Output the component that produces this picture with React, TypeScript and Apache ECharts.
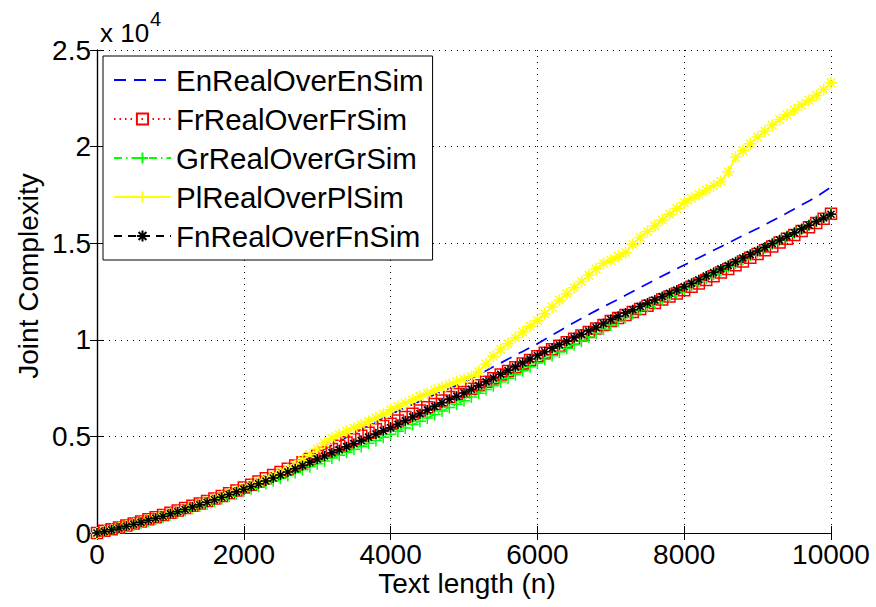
import React, { useEffect, useRef } from "react";
import * as echarts from "echarts";

// Text lengths sampled every 100 characters (0 … 10000)
const textLengths: number[] = Array.from({ length: 101 }, (_, i) => i * 100);

const seriesNames = [
  "EnRealOverEnSim",
  "FrRealOverFrSim",
  "GrRealOverGrSim",
  "PlRealOverPlSim",
  "FnRealOverFnSim",
];

const enValues = [
  0, 80, 170, 260, 350, 450, 560, 660, 770, 880,
  1000, 1110, 1230, 1350, 1470, 1600, 1730, 1860, 2000, 2140,
  2290, 2440, 2590, 2750, 2920, 3100, 3290, 3490, 3700, 3910,
  4120, 4330, 4540, 4750, 4950, 5150, 5350, 5550, 5750, 5950,
  6140, 6310, 6480, 6650, 6820, 6990, 7160, 7320, 7480, 7640,
  7800, 8000, 8200, 8400, 8600, 8800, 9000, 9200, 9400, 9600,
  9800, 10020, 10240, 10460, 10680, 10890, 11100, 11310, 11510, 11710,
  11900, 12100, 12300, 12500, 12700, 12900, 13100, 13300, 13490, 13680,
  13870, 14060, 14250, 14440, 14630, 14820, 15010, 15200, 15390, 15580,
  15760, 15960, 16160, 16360, 16560, 16770, 16980, 17190, 17400, 17650,
  17900,
];

const frValues = [
  0, 110, 200, 290, 390, 490, 600, 710, 820, 930,
  1050, 1160, 1290, 1410, 1530, 1660, 1790, 1920, 2060, 2200,
  2350, 2500, 2660, 2830, 3000, 3160, 3330, 3490, 3660, 3830,
  4010, 4180, 4350, 4510, 4680, 4850, 5030, 5190, 5370, 5540,
  5650, 5820, 6000, 6170, 6340, 6510, 6680, 6860, 7040, 7200,
  7300, 7470, 7650, 7830, 8010, 8200, 8390, 8580, 8770, 8960,
  9150, 9330, 9510, 9690, 9870, 10050, 10220, 10400, 10580, 10760,
  10970, 11130, 11280, 11440, 11600, 11760, 11910, 12080, 12240, 12400,
  12570, 12740, 12920, 13100, 13290, 13480, 13670, 13860, 14050, 14250,
  14440, 14640, 14830, 15030, 15230, 15430, 15630, 15830, 16040, 16260,
  16520,
];

const grValues = [
  0, 70, 150, 240, 330, 420, 520, 620, 720, 830,
  940, 1050, 1160, 1280, 1400, 1520, 1640, 1770, 1900, 2030,
  2160, 2290, 2420, 2560, 2700, 2840, 2980, 3130, 3280, 3430,
  3580, 3730, 3880, 4030, 4180, 4330, 4480, 4640, 4790, 4950,
  5110, 5270, 5440, 5610, 5780, 5950, 6130, 6310, 6490, 6670,
  6850, 7040, 7230, 7430, 7620, 7820, 8010, 8200, 8400, 8600,
  8800, 8990, 9180, 9370, 9560, 9750, 9940, 10140, 10340, 10540,
  10760, 10960, 11160, 11360, 11540, 11720, 11900, 12080, 12260, 12440,
  12630, 12820, 13010, 13200, 13390, 13590, 13780, 13980, 14170, 14370,
  14570, 14760, 14960, 15150, 15350, 15540, 15740, 15930, 16130, 16320,
  16520,
];

const plValues = [
  0, 90, 180, 270, 360, 460, 560, 670, 780, 890,
  1010, 1120, 1240, 1360, 1490, 1620, 1750, 1890, 2030, 2170,
  2310, 2460, 2610, 2770, 2940, 3110, 3290, 3500, 3760, 4050,
  4350, 4650, 4900, 5100, 5270, 5440, 5600, 5780, 5960, 6150,
  6380, 6550, 6720, 6890, 7060, 7220, 7380, 7530, 7680, 7830,
  7960, 8100, 8350, 8750, 9150, 9500, 9800, 10100, 10400, 10700,
  11000, 11350, 11700, 12050, 12380, 12700, 13020, 13340, 13660, 13960,
  14120, 14320, 14520, 14950, 15300, 15600, 15900, 16200, 16500, 16800,
  17100, 17320, 17540, 17760, 17980, 18200, 18700, 19450, 19800, 20150,
  20500, 20800, 21100, 21400, 21650, 21900, 22150, 22400, 22650, 22950,
  23300,
];

const fnValues = [
  0, 80, 170, 260, 350, 450, 550, 660, 760, 870,
  990, 1100, 1220, 1340, 1460, 1590, 1720, 1850, 1990, 2130,
  2270, 2410, 2550, 2690, 2850, 3000, 3160, 3320, 3490, 3660,
  3830, 3990, 4150, 4310, 4470, 4630, 4790, 4960, 5120, 5290,
  5450, 5630, 5810, 6000, 6170, 6370, 6550, 6740, 6920, 7080,
  7250, 7440, 7630, 7830, 8020, 8220, 8410, 8600, 8800, 9000,
  9190, 9380, 9560, 9740, 9920, 10100, 10280, 10460, 10640, 10840,
  11050, 11220, 11390, 11560, 11730, 11900, 12060, 12240, 12410, 12580,
  12750, 12930, 13110, 13300, 13480, 13670, 13850, 14040, 14230, 14410,
  14600, 14790, 14980, 15170, 15360, 15540, 15740, 15930, 16120, 16310,
  16500,
];

const xTicks = [0, 2000, 4000, 6000, 8000, 10000];
const yTicks = [0, 5000, 10000, 15000, 20000, 25000];

const FONT = "'Liberation Sans', Arial, Helvetica, sans-serif";

const PLUS = "path://M5,0L5,10M0,5L10,5";
const STAR = "path://M5,0L5,10M0,5L10,5M1.5,1.5L8.5,8.5M1.5,8.5L8.5,1.5";
const SQUARE = "path://M0,0L10,0L10,10L0,10Z";

function lineSeries(
  name: string,
  vals: number[],
  color: string,
  lineType: any,
  symbol: string,
  symbolSize: number,
  lineWidth: number,
  plotSymbol?: string
) {
  const noMarker = symbol === "none";
  return {
    type: "line",
    name,
    data: textLengths.map((x, i) =>
      plotSymbol ? { value: [x, vals[i]], symbol: plotSymbol } : [x, vals[i]]
    ),
    showSymbol: !noMarker,
    showAllSymbol: true,
    symbol: noMarker ? "circle" : symbol,
    symbolSize: noMarker ? 0 : symbolSize,
    lineStyle: { color, width: lineWidth, type: lineType },
    itemStyle: {
      color: "transparent",
      borderColor: noMarker ? "transparent" : color,
      borderWidth: 1.5,
    },
    emphasis: { disabled: true },
  };
}

export default function App() {
  const ref = useRef<HTMLDivElement>(null);

  useEffect(() => {
    if (!ref.current) return;
    const chart = echarts.init(ref.current, null, { renderer: "svg" });

    const splitLine = {
      show: true,
      lineStyle: { color: "#000", width: 1, type: [1, 5] as any },
    };
    const axisLine = { show: true, lineStyle: { color: "#000", width: 1.2 } };
    const axisTick = { show: true, inside: true, length: 7, lineStyle: { color: "#000" } };

    chart.setOption({
      animation: false,
      backgroundColor: "#fff",
      grid: { left: 97, right: 45, top: 50, bottom: 74, containLabel: false },
      xAxis: [
        {
          type: "value",
          min: xTicks[0],
          max: xTicks[xTicks.length - 1],
          interval: 2000,
          axisLine,
          axisTick,
          splitLine,
          axisLabel: {
            color: "#000",
            fontFamily: FONT,
            fontSize: 28,
            margin: 7,
            formatter: (v: number) => String(v),
          },
        },
        {
          type: "value",
          position: "top",
          min: xTicks[0],
          max: xTicks[xTicks.length - 1],
          interval: 2000,
          axisLine,
          axisTick,
          splitLine: { show: false },
          axisLabel: { show: false },
        },
      ],
      yAxis: [
        {
          type: "value",
          min: yTicks[0],
          max: yTicks[yTicks.length - 1],
          interval: 5000,
          axisLine,
          axisTick,
          splitLine,
          axisLabel: {
            color: "#000",
            fontFamily: FONT,
            fontSize: 28,
            margin: 6,
            formatter: (v: number) => String(v / 10000),
          },
        },
        {
          type: "value",
          position: "right",
          min: yTicks[0],
          max: yTicks[yTicks.length - 1],
          interval: 5000,
          axisLine,
          axisTick,
          splitLine: { show: false },
          axisLabel: { show: false },
        },
      ],
      legend: {
        orient: "vertical",
        left: 103,
        top: 56,
        padding: [9, 9, 9, 10],
        itemWidth: 57,
        itemHeight: 14,
        itemGap: 9,
        backgroundColor: "#fff",
        borderColor: "#000",
        borderWidth: 1,
        borderRadius: 0,
        selectedMode: false,
        data: seriesNames,
        textStyle: {
          color: "#000",
          fontFamily: FONT,
          fontSize: 29.5,
          lineHeight: 30,
        },
      },
      series: [
        lineSeries(seriesNames[0], enValues, "#0000ff", [12, 8], "none", 0, 1.7),
        lineSeries(seriesNames[1], frValues, "#ff0000", [1.5, 4], SQUARE, 11, 1.3),
        lineSeries(seriesNames[2], grValues, "#00ff00", [8, 4, 1.5, 4], PLUS, 12, 1.5),
        lineSeries(seriesNames[3], plValues, "#ffff00", "solid", PLUS, 12, 1.8, STAR),
        lineSeries(seriesNames[4], fnValues, "#000000", [8, 6], STAR, 10, 1.5),
      ],
      graphic: [
        {
          type: "text",
          left: 100,
          top: 20,
          style: { text: "x 10", fontFamily: FONT, fontSize: 26, fill: "#000" },
        },
        {
          type: "text",
          left: 150,
          top: 9,
          style: { text: "4", fontFamily: FONT, fontSize: 20, fill: "#000" },
        },
        {
          type: "text",
          x: 467,
          y: 583,
          style: {
            text: "Text length (n)",
            fontFamily: FONT,
            fontSize: 28,
            fill: "#000",
            align: "center",
            verticalAlign: "middle",
          },
        },
        {
          type: "text",
          x: 28,
          y: 276,
          rotation: Math.PI / 2,
          style: {
            text: "Joint Complexity",
            fontFamily: FONT,
            fontSize: 28,
            fill: "#000",
            align: "center",
            verticalAlign: "middle",
          },
        },
      ],
    });

    return () => chart.dispose();
  }, []);

  return <div ref={ref} style={{ width: 876, height: 607, position: "absolute", left: 0, top: 0 }} />;
}
